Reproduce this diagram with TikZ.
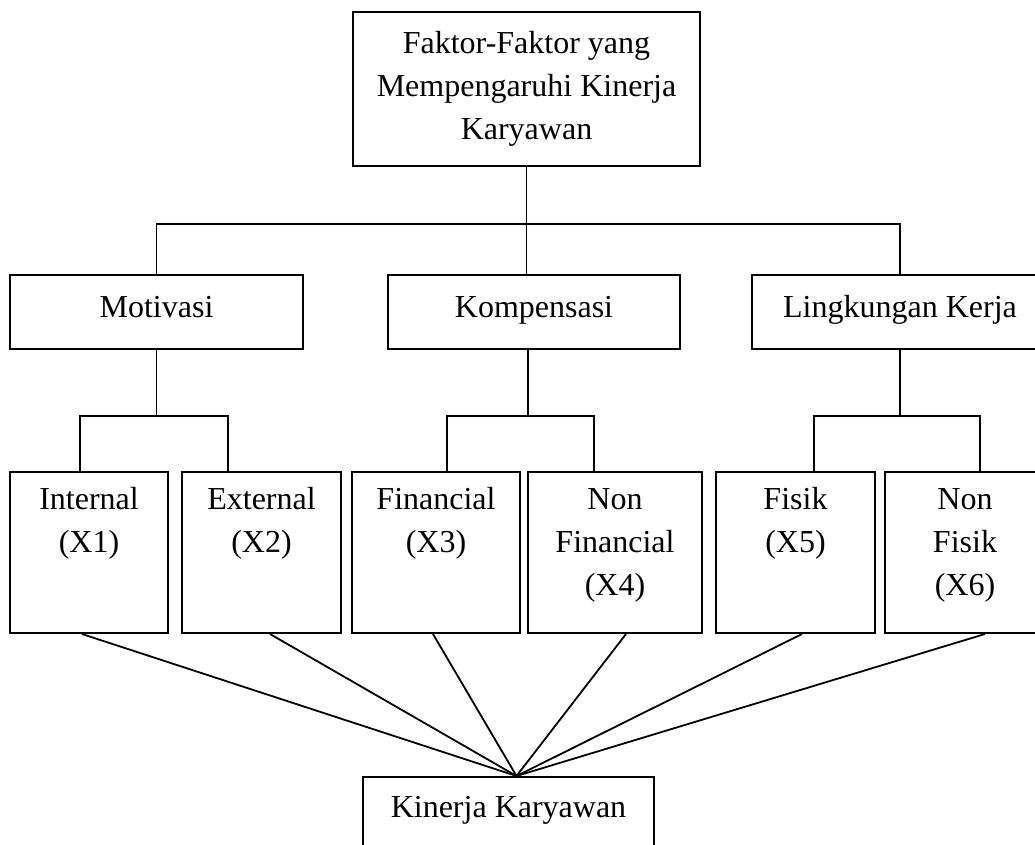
\documentclass[tikz,border=0pt]{standalone}
\usepackage{fontspec}
\setmainfont{Liberation Serif}
\newcommand{\leaftxt}[1]{\parbox[t][161pt][t]{150pt}{\centering\rule{0pt}{37pt}#1}}
\begin{document}
\begin{tikzpicture}[x=1pt,y=-1pt,font=\fontsize{32}{43}\selectfont,
  box/.style={draw,line width=2pt,inner sep=0pt,text height=17pt,text depth=7pt},
  leaf/.style={draw,line width=2pt,inner sep=0pt,anchor=north,minimum height=161pt},
  conn/.style={line width=1.8pt}]
  \useasboundingbox (0,0) rectangle (1035,844);
  \clip (0,0) rectangle (1035,844);
  % top box
  \node[draw,line width=2pt,inner sep=0pt,minimum width=347pt,minimum height=154pt,align=center] (top) at (526.5,89)
    {Faktor-Faktor yang\\Mempengaruhi Kinerja\\Karyawan};
  % middle row
  \node[box,minimum width=293pt,minimum height=74pt] (mot) at (156.5,312) {Motivasi};
  \node[box,minimum width=292pt,minimum height=74pt] (kom) at (534,312) {Kompensasi};
  \node[box,minimum width=296pt,minimum height=74pt] (lk) at (900,312) {Lingkungan Kerja};
  % leaves
  \node[leaf,minimum width=158pt] (int) at (89,471) {\leaftxt{Internal\\(X1)}};
  \node[leaf,minimum width=159pt] (ext) at (261.5,471) {\leaftxt{External\\(X2)}};
  \node[leaf,minimum width=168pt] (fin) at (436,471) {\leaftxt{Financial\\(X3)}};
  \node[leaf,minimum width=174pt] (nfin) at (615,471) {\leaftxt{Non\\Financial\\(X4)}};
  \node[leaf,minimum width=159pt] (fis) at (795.5,471) {\leaftxt{Fisik\\(X5)}};
  \node[leaf,minimum width=160pt] (nfis) at (965,471) {\leaftxt{Non\\Fisik\\(X6)}};
  % result
  \node[box,minimum width=291pt,minimum height=70pt] (kin) at (508.5,812) {Kinerja Karyawan};
  % connectors
  \draw[conn] (top.south) -- ++(0,57) coordinate (tj);
  \draw[conn] (tj) -- (tj |- kom.north);
  \draw[conn] (mot.north) |- (tj) -| (lk.north);
  \draw[conn] (mot.south) -- ++(0,66) coordinate (mj);
  \draw[conn] ([xshift=-9pt]int.north) |- (mj) -| ([xshift=-33.5pt]ext.north);
  \draw[conn] ([xshift=-6pt]kom.south) -- ++(0,66) coordinate (kj);
  \draw[conn] ([xshift=11pt]fin.north) |- (kj) -| ([xshift=-21pt]nfin.north);
  \draw[conn] (lk.south) -- ++(0,66) coordinate (lj);
  \draw[conn] ([xshift=18.5pt]fis.north) |- (lj) -| ([xshift=15pt]nfis.north);
  \coordinate (kt) at ([xshift=8pt]kin.north);
  \foreach \n/\s in {int/-7,ext/8.5,fin/-3,nfin/11,fis/6.5,nfis/20}
    \draw[conn] ([xshift=\s pt]\n.south) -- (kt);
\end{tikzpicture}
\end{document}
